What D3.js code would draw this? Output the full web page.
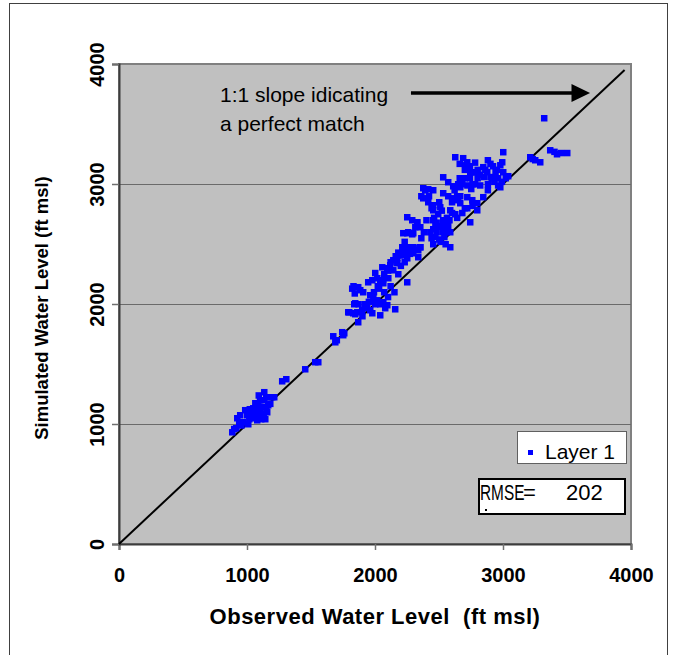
<!DOCTYPE html>
<html>
<head>
<meta charset="utf-8">
<script src="https://cdn.jsdelivr.net/npm/d3@7"></script>
<style>
  html, body { margin: 0; padding: 0; background: #ffffff; }
  svg { display: block; }
  text { font-family: "Liberation Sans", Arial, sans-serif; fill: #000; }
</style>
</head>
<body>
<svg id="chart" width="674" height="655"></svg>
<script>
// Observed vs simulated water levels (ft msl), Layer 1 calibration targets
const observed = [
  883, 898, 914, 922, 937, 945, 955, 969, 984, 1000, 1008, 1016, 1020, 1031, 1047, 1047, 1055, 1063, 1070, 1078,
  1086, 1090, 1094, 1100, 1102, 1109, 1117, 1125, 1130, 1133, 1133, 1141, 1148, 1150, 1156, 1164, 1180, 1195, 1211, 1273,
  1305, 1453, 1531, 1555, 1672, 1688, 1700, 1742, 1750, 1758, 1789, 1797, 1820, 1828, 1830, 1836, 1840, 1844, 1844, 1859,
  1867, 1867, 1883, 1898, 1906, 1937, 1945, 1950, 1961, 1961, 1977, 1977, 1985, 2000, 2000, 2016, 2016, 2030, 2039, 2039,
  2039, 2055, 2063, 2063, 2070, 2070, 2078, 2094, 2094, 2100, 2102, 2117, 2120, 2141, 2141, 2150, 2156, 2172, 2172, 2180,
  2195, 2200, 2211, 2211, 2219, 2219, 2230, 2250, 2250, 2250, 2250, 2250, 2258, 2258, 2270, 2289, 2289, 2297, 2297, 2297,
  2300, 2313, 2328, 2328, 2336, 2336, 2352, 2352, 2352, 2375, 2375, 2414, 2414, 2430, 2453, 2453, 2453, 2453, 2453, 2453,
  2470, 2480, 2492, 2492, 2500, 2508, 2510, 2520, 2531, 2531, 2531, 2531, 2540, 2550, 2560, 2570, 2570, 2570, 2586, 2586,
  2586, 2600, 2609, 2609, 2625, 2625, 2640, 2648, 2648, 2660, 2664, 2664, 2664, 2680, 2687, 2700, 2700, 2703, 2719, 2719,
  2719, 2720, 2740, 2742, 2742, 2750, 2758, 2758, 2760, 2780, 2781, 2797, 2797, 2800, 2820, 2844, 2844, 2850, 2875, 2880,
  2880, 2900, 2900, 2910, 2930, 2940, 2950, 2960, 2960, 2977, 2977, 2990, 2992, 3000, 3000, 3020, 3039, 3211, 3230, 3250,
  3289, 3320, 3367, 3400, 3420, 3450, 3500,
  2420, 2440, 2460, 2480, 2500, 2520, 2540, 2560, 2580, 2600, 2620, 2640, 2660, 2680, 2700, 2720, 2740, 2760, 2780, 2800,
  2820, 2860, 2880, 2920, 2940, 2400, 2380, 2360, 2440, 2470, 2360, 2390, 2230, 2180, 2160, 2120, 2100, 2060, 2020, 1990,
  1920, 1900, 1870
];
const simulated = [
  933, 960, 967, 1050, 1017, 1075, 990, 1017, 1117, 1075, 1000, 1042, 1125, 1100, 1133, 1050, 1092, 1175, 1108, 1033,
  1150, 1240, 1067, 1200, 1117, 1042, 1083, 1142, 1060, 1267, 1200, 1042, 1225, 1120, 1100, 1158, 1170, 1225, 1225, 1358,
  1375, 1458, 1517, 1517, 1733, 1683, 1700, 1767, 1742, 1758, 1933, 1933, 2130, 1925, 2150, 2000, 2090, 1917, 2008, 1933,
  1850, 2142, 2117, 1950, 2100, 1967, 2183, 2020, 1950, 2075, 1925, 2200, 2050, 2000, 2260, 2033, 2217, 2130, 1908, 2000,
  2200, 2308, 2017, 2175, 2250, 2100, 1967, 1992, 2300, 2060, 2217, 2325, 2150, 2283, 2367, 2100, 1958, 2342, 2383, 2250,
  2408, 2320, 2408, 2475, 2425, 2592, 2350, 2183, 2383, 2475, 2592, 2725, 2433, 2600, 2420, 2583, 2700, 2425, 2475, 2592,
  2470, 2642, 2683, 2683, 2450, 2392, 2475, 2475, 2642, 2967, 2883, 2958, 2850, 2600, 2950, 2825, 2783, 2700, 2625, 2500,
  2560, 2600, 2750, 2650, 2540, 2808, 2520, 2650, 3058, 2925, 2700, 2600, 2560, 2500, 2720, 3017, 2900, 2650, 2600, 2475,
  2783, 2760, 2983, 2883, 2750, 3225, 2720, 3000, 2867, 3170, 2975, 2900, 2842, 2760, 3217, 2800, 3120, 3158, 3183, 2892,
  2800, 2990, 3150, 2683, 3100, 2960, 2867, 3100, 2820, 3000, 3100, 2842, 2783, 3050, 2990, 3142, 2892, 3060, 3100, 3000,
  2950, 3060, 3170, 3050, 3020, 3100, 3120, 2990, 3050, 2975, 3158, 3020, 3183, 3267, 3100, 3050, 3067, 3225, 3210, 3200,
  3183, 3550, 3283, 3270, 3250, 3260, 3260,
  2900, 2800, 2720, 2680, 2850, 2780, 2680, 2600, 2700, 2850, 2950, 2900, 3050, 3000, 3050, 3150, 3050, 3000, 3180, 3120,
  3080, 3120, 3200, 3150, 3050, 2700, 2600, 2550, 2550, 2650, 2900, 2950, 2520, 2430, 2400, 2350, 2280, 2200, 2150, 2100,
  2000, 1900, 2000
];
const axisTicks = [0, 1000, 2000, 3000, 4000];
const gridTicks = [1000, 2000, 3000];
const oneToOne = [0, 3950];
const rmse = 202;
const seriesName = "Layer 1";
const xTitle = "Observed Water Level  (ft msl)";
const yTitle = "Simulated Water Level (ft msl)";
const noteLines = ["1:1 slope idicating", "a perfect match"];

const svg = d3.select("#chart");
const plot = { left: 119, right: 631, top: 64, bottom: 544 };

const x = d3.scaleLinear().domain([0, 4000]).range([plot.left, plot.right]);
const y = d3.scaleLinear().domain([0, 4000]).range([plot.bottom, plot.top]);

// outer chart frame
svg.append("rect")
  .attr("x", 9.5).attr("y", 3.5)
  .attr("width", 658).attr("height", 660)
  .attr("fill", "#fff").attr("stroke", "#404040").attr("stroke-width", 1);

// plot area
svg.append("rect")
  .attr("x", plot.left).attr("y", plot.top)
  .attr("width", plot.right - plot.left).attr("height", plot.bottom - plot.top)
  .attr("fill", "#c0c0c0").attr("stroke", "#808080").attr("stroke-width", 2);

// horizontal gridlines
svg.append("g").selectAll("line").data(gridTicks).join("line")
  .attr("x1", plot.left).attr("x2", plot.right)
  .attr("y1", d => Math.round(y(d)) + 0.5).attr("y2", d => Math.round(y(d)) + 0.5)
  .attr("stroke", "#6a6a6a").attr("stroke-width", 1);

// axes
const xAxis = d3.axisBottom(x).tickValues(axisTicks).tickSize(6).tickFormat(d3.format("d"));
const yAxis = d3.axisLeft(y).tickValues(axisTicks).tickSize(7).tickFormat(d3.format("d"));

const gx = svg.append("g").attr("transform", `translate(0,${plot.bottom})`).call(xAxis);
const gy = svg.append("g").attr("transform", `translate(${plot.left},0)`).call(yAxis);

[gx, gy].forEach(g => {
  g.select(".domain").attr("stroke", "#3c3c3c").attr("stroke-width", 2);
  g.selectAll(".tick line").attr("stroke", "#707070").attr("stroke-width", 1.5);
  g.selectAll(".tick text")
    .style("font-family", "'Liberation Sans', Arial, sans-serif")
    .style("font-size", "20px").style("font-weight", "bold").attr("fill", "#000");
});
gx.selectAll(".tick text").attr("y", 24).attr("dy", "0.71em");
gy.selectAll(".tick text")
  .attr("x", null).attr("dy", null)
  .attr("text-anchor", "middle")
  .attr("transform", "translate(-15,0) rotate(-90)");

// 1:1 reference line
svg.append("line")
  .attr("x1", x(oneToOne[0])).attr("y1", y(oneToOne[0]))
  .attr("x2", x(oneToOne[1])).attr("y2", y(oneToOne[1]))
  .attr("stroke", "#000").attr("stroke-width", 2);

// points
const pts = observed.map((o, i) => ({ o, s: simulated[i] }));
svg.append("g").selectAll("rect").data(pts).join("rect")
  .attr("x", d => x(d.o) - 3).attr("y", d => y(d.s) - 3)
  .attr("width", 6.5).attr("height", 6.5)
  .attr("fill", "#0000ff");

// annotation
const note = svg.append("text").attr("x", x(789)).attr("y", y(3683))
  .style("font-size", "21px");
note.selectAll("tspan").data(noteLines).join("tspan")
  .attr("x", x(789)).attr("dy", (d, i) => i === 0 ? 0 : 29)
  .text(d => d);

const arrowY = y(3758);
svg.append("line")
  .attr("x1", x(2281)).attr("x2", x(3560))
  .attr("y1", arrowY).attr("y2", arrowY)
  .attr("stroke", "#000").attr("stroke-width", 3.5);
svg.append("path")
  .attr("d", `M${x(3680)},${arrowY} L${x(3535)},${arrowY - 9} L${x(3535)},${arrowY + 9} Z`)
  .attr("fill", "#000");

// legend
svg.append("rect")
  .attr("x", 517.5).attr("y", 431.5).attr("width", 109).attr("height", 32)
  .attr("fill", "#fff").attr("stroke", "#606060").attr("stroke-width", 1);
svg.append("rect")
  .attr("x", 528).attr("y", 450).attr("width", 5).attr("height", 5)
  .attr("fill", "#0000ff");
svg.append("text").attr("x", 545).attr("y", 458.5)
  .style("font-size", "21px").text(seriesName);

// RMSE box
svg.append("rect")
  .attr("x", 479).attr("y", 479).attr("width", 146).attr("height", 35)
  .attr("fill", "#fff").attr("stroke", "#000").attr("stroke-width", 2);
svg.append("text")
  .attr("transform", "translate(480,500) scale(0.7,1)")
  .style("font-size", "22px").text("RMSE");
svg.append("text").attr("x", 523).attr("y", 500)
  .style("font-size", "22px").text("=");
svg.append("text").attr("x", 566).attr("y", 500)
  .style("font-size", "22px").text(String(rmse));
svg.append("rect").attr("x", 485).attr("y", 509).attr("width", 2).attr("height", 2).attr("fill", "#000");

// axis titles
svg.append("text")
  .attr("x", (plot.left + plot.right) / 2).attr("y", 624)
  .attr("text-anchor", "middle")
  .style("font-size", "22px").style("font-weight", "bold")
  .style("letter-spacing", "0.5px").style("white-space", "pre")
  .text(xTitle);

svg.append("text")
  .attr("transform", `translate(48,${(plot.top + plot.bottom) / 2 + 4}) rotate(-90)`)
  .attr("text-anchor", "middle")
  .style("font-size", "18.5px").style("font-weight", "bold")
  .text(yTitle);
</script>
</body>
</html>
